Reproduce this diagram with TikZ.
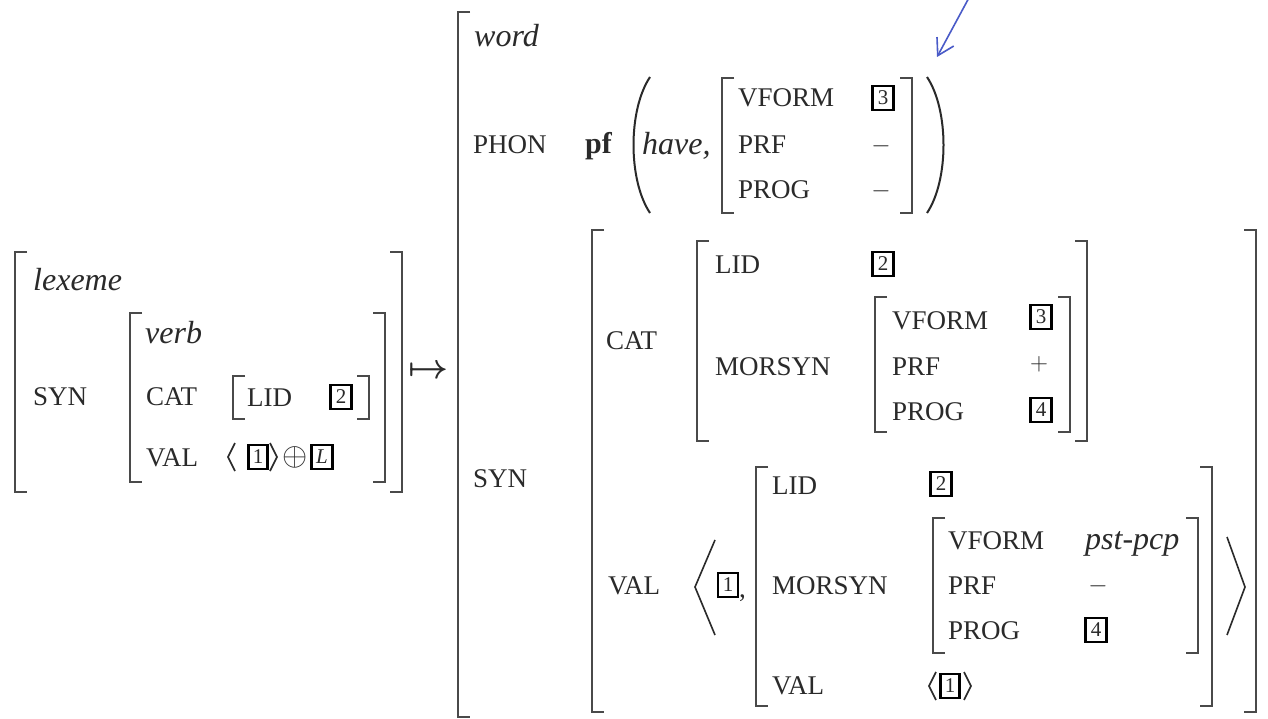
\documentclass[tikz,border=0pt]{standalone}
\usepackage{fontspec}
\usepackage{graphicx}
\setmainfont{Liberation Serif}
\usetikzlibrary{arrows.meta}
\definecolor{ink}{HTML}{2A2A2A}
\definecolor{rulegray}{HTML}{4A4A4A}
\definecolor{pen}{HTML}{4A5BC8}

\tikzset{
  feat/.style={anchor=base west, inner sep=0, text=ink, font=\fontsize{27}{30}\selectfont},
  atom/.style={feat, font=\fontsize{32}{36}\selectfont\itshape},
  sym/.style={anchor=center, inner sep=0, text=ink, font=\fontsize{27}{30}\selectfont},
  avmtag/.style={draw=black, line width=2.2pt, minimum width=21pt, minimum height=24pt,
                 inner sep=0, text=ink, font=\fontsize{21}{22}\selectfont},
  brk/.style={draw=rulegray, line width=2.4pt, line cap=butt, line join=miter},
  angl/.style={draw=ink, line width=1.6pt, line join=miter},
}
% square brackets of an attribute-value matrix: x, top y, bottom y
\newcommand\avmlb[3]{\draw[brk] (#1+12,#2) -- (#1,#2) -- (#1,#3) -- (#1+12,#3);}
\newcommand\avmrb[3]{\draw[brk] (#1-12,#2) -- (#1,#2) -- (#1,#3) -- (#1-12,#3);}

\begin{document}
\begin{tikzpicture}[x=1pt, y=-1pt]
\fill[white] (0,0) rectangle (1268,719);
\useasboundingbox (0,0) rectangle (1268,719);

% ---------- lexeme ----------
\avmlb{15}{252}{492}
\avmrb{402}{252}{492}
\node[atom] (lexeme) at (33,290) {lexeme};
\node[feat] (synL) at (33,405) {SYN};
\avmlb{130}{313}{482}
\avmrb{385}{313}{482}
\node[atom] (verb) at (145,343) {verb};
\node[feat] (catL) at (146,405) {CAT};
\node[feat] (valL) at (146,466) {VAL};
\avmlb{233}{376}{419}
\avmrb{369}{376}{419}
\node[feat] (lidL) at (247,406) {LID};
\node[avmtag] (tagLtwo) at (341,397) {2};
\draw[angl] (235,443) -- (228,457) -- (235,471);
\node[avmtag, minimum width=19pt] (tagLone) at (258,457) {1};
\draw[angl] (270,443) -- (277,457) -- (270,471);
\node[sym] (oplus) at (295,457) {\scalebox{1.3}{$\oplus$}};
\node[avmtag] (tagLL) at (322,457) {\itshape L};

% ---------- mapping arrow ----------
\node[sym] (maps) at (429,372) {\scalebox{1.4}{\boldmath$\mapsto$}};

% ---------- word ----------
\avmlb{458}{12}{717}
\node[atom] (word) at (474,47) {word};
\node[feat] (phon) at (473,154) {PHON};
\node[feat, font=\fontsize{30}{32}\selectfont\bfseries] (pf) at (585,154) {pf};
\draw[draw=ink, line width=2pt] (650,77) .. controls (628,110) and (628,180) .. (650,213);
\node[atom] (have) at (642,155) {have,};
\avmlb{722}{78}{213}
\avmrb{912}{78}{213}
\node[feat] (vformP) at (738,107) {VFORM};
\node[feat] (prfP) at (738,154) {PRF};
\node[feat] (progP) at (738,199) {PROG};
\node[avmtag] (tagPthree) at (883,98) {3};
\node[sym] (prfPv) at (881,146) {$-$};
\node[sym] (progPv) at (881,191) {$-$};
\draw[draw=ink, line width=2pt] (927,77) .. controls (949,110) and (949,180) .. (927,213);

% SYN of the word
\node[feat] (synW) at (473,487) {SYN};
\avmlb{592}{230}{712}
\avmrb{1256}{230}{712}

% CAT
\node[feat] (catW) at (606,349) {CAT};
\avmlb{697}{241}{441}
\avmrb{1087}{241}{441}
\node[feat] (lidW) at (715,273) {LID};
\node[avmtag] (tagWtwo) at (883,264) {2};
\node[feat] (morsynW) at (715,375) {MORSYN};
\avmlb{875}{297}{432}
\avmrb{1070}{297}{432}
\node[feat] (vformW) at (892,329) {VFORM};
\node[feat] (prfW) at (892,375) {PRF};
\node[feat] (progW) at (892,420) {PROG};
\node[avmtag] (tagWthree) at (1041,317) {3};
\node[sym] (prfWv) at (1039,364) {$+$};
\node[avmtag] (tagWfour) at (1041,410) {4};

% VAL
\node[feat] (valW) at (608,594) {VAL};
\draw[angl] (715,540) -- (695,587) -- (715,635);
\node[avmtag, minimum width=20pt] (tagVone) at (728,585) {1};
\node[feat] (comma) at (739,597) {,};
\avmlb{756}{467}{706}
\avmrb{1212}{467}{706}
\node[feat] (lidV) at (772,494) {LID};
\node[avmtag] (tagVtwo) at (941,484) {2};
\node[feat] (morsynV) at (772,594) {MORSYN};
\avmlb{933}{518}{653}
\avmrb{1198}{518}{653}
\node[feat] (vformV) at (948,549) {VFORM};
\node[feat] (prfV) at (948,594) {PRF};
\node[feat] (progV) at (948,639) {PROG};
\node[atom] (pstpcp) at (1085,549) {pst-pcp};
\node[sym] (prfVv) at (1098,586) {$-$};
\node[avmtag] (tagVfour) at (1096,630) {4};
\node[feat] (valV) at (772,694) {VAL};
\draw[angl] (936,672) -- (929,686) -- (936,700);
\node[avmtag, minimum width=19pt] (tagVVone) at (950,686) {1};
\draw[angl] (964,672) -- (971,686) -- (964,700);
\draw[angl] (1227,537) -- (1245,587) -- (1227,635);

% hand-drawn pointer
\coordinate (penfrom) at (971,-6);
\coordinate (pento) at (937,57);
\draw[pen, line width=1.6pt, -{Straight Barb[length=16pt,width=19pt]}] (penfrom) -- (pento);
\end{tikzpicture}
\end{document}
